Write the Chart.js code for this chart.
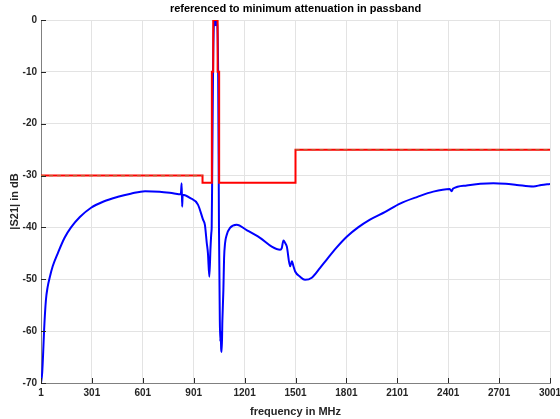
<!DOCTYPE html>
<html>
<head>
<meta charset="utf-8">
<script src="https://cdn.jsdelivr.net/npm/chart.js@4"></script>
<style>
  html, body { margin: 0; padding: 0; background: #fff; }
  #wrap { width: 560px; height: 419px; }
</style>
</head>
<body>
<div id="wrap"><canvas id="myChart" width="560" height="419"></canvas></div>
<script>
// measured response (blue)
const blueFreq = [1, 8, 14, 19, 30, 40, 52, 70, 101, 140, 178, 230, 296, 370, 455, 530, 614, 700, 779, 825, 830, 833, 836, 879, 926, 956, 967, 978, 985, 993, 1000, 1005, 1007, 1010, 1015, 1020, 1025, 1030, 1035, 1040, 1045, 1050, 1055, 1058, 1060, 1063, 1066, 1070, 1076, 1080, 1086, 1095, 1115, 1154, 1213, 1292, 1361, 1410, 1420, 1430, 1440, 1450, 1469, 1480, 1489, 1499, 1528, 1557, 1597, 1646, 1685, 1740, 1803, 1870, 1940, 2030, 2117, 2220, 2313, 2410, 2421, 2430, 2510, 2590, 2667, 2740, 2805, 2903, 2950, 3001];
const blueDb = [-70, -68, -64, -60, -54, -51.5, -49.7, -47.5, -44.9, -42, -40, -38, -36.2, -35, -34.1, -33.5, -33, -33.1, -33.4, -33.6, -31.5, -36, -33.7, -34.3, -35.6, -38.5, -39.5, -43, -45, -49.5, -44, -41, -40, -30, -10, -1, 0, -1, -0.3, -1, -10, -40, -58, -62, -60, -63.5, -64, -58, -52, -46, -43, -41.5, -40.1, -39.5, -40.5, -42, -43.7, -44.3, -44, -42.5, -43, -43.7, -47.5, -46.5, -47.5, -48.5, -49.5, -50.1, -49.7, -47.8, -46.2, -44, -41.8, -40, -38.5, -37, -35.4, -34.1, -33.1, -32.6, -33.0, -32.5, -31.9, -31.6, -31.5, -31.6, -31.8, -32.1, -31.8, -31.6];

// attenuation mask (red, stepped)
const maskFreq = [1, 953, 1008, 1016, 1042, 1051, 1501, 3001];
const maskDb = [-30, -31.4, -10, 0, -10, -31.4, -25, -25];

// second spec (dashed)
const specFreq = [1, 953, 1200, 1501, 3001];
const specDb = [-30, -30, null, -25, -25];

const xTicks = [1, 301, 601, 901, 1201, 1501, 1801, 2101, 2401, 2701, 3001];
const yTicks = [0, -10, -20, -30, -40, -50, -60, -70];

const titleText = 'referenced to minimum attenuation in passband';

const pts = (xs, ys) => xs.map((x, i) => ({ x: x, y: ys[i] }));

// MATLAB style ticks pointing into the plot + title centred over the axes
const matlabBits = {
  id: 'matlabBits',
  afterDraw(chart) {
    const { ctx, chartArea, scales } = chart;
    ctx.save();
    ctx.strokeStyle = '#262626';
    ctx.lineWidth = 1;
    ctx.beginPath();
    xTicks.forEach(v => {
      const px = Math.round(scales.x.getPixelForValue(v)) + 0.5;
      ctx.moveTo(px, chartArea.bottom);
      ctx.lineTo(px, chartArea.bottom - 5);
    });
    yTicks.forEach(v => {
      const py = Math.round(scales.y.getPixelForValue(v)) + 0.5;
      ctx.moveTo(chartArea.left, py);
      ctx.lineTo(chartArea.left + 5, py);
    });
    ctx.stroke();

    ctx.fillStyle = '#000';
    ctx.font = 'bold 11px "Liberation Sans", Arial';
    ctx.textAlign = 'center';
    ctx.textBaseline = 'middle';
    ctx.fillText(titleText, (chartArea.left + chartArea.right) / 2, 9);
    ctx.restore();
  }
};

const renderChart = () => {
  const ctx = document.getElementById('myChart');
  new Chart(ctx, {
    type: 'line',
    data: {
      datasets: [
        {
          label: 'spec',
          data: pts(specFreq, specDb),
          borderColor: '#b8602e',
          borderWidth: 1.2,
          borderDash: [4, 4],
          pointRadius: 0,
          spanGaps: false,
          order: 0
        },
        {
          label: 'mask',
          data: pts(maskFreq, maskDb),
          borderColor: '#ff0000',
          borderWidth: 2,
          stepped: 'before',
          pointRadius: 0,
          order: 1
        },
        {
          label: '|S21|',
          data: pts(blueFreq, blueDb),
          borderColor: '#0000ff',
          borderWidth: 2,
          pointRadius: 0,
          cubicInterpolationMode: 'monotone',
          order: 2
        }
      ]
    },
    options: {
      responsive: false,
      animation: false,
      layout: { padding: { left: 0, right: 10, top: 20, bottom: 0 }, autoPadding: false },
      plugins: {
        legend: { display: false },
        tooltip: { enabled: false },
        title: { display: false }
      },
      scales: {
        x: {
          type: 'linear',
          min: 1,
          max: 3001,
          afterBuildTicks: s => { s.ticks = xTicks.map(v => ({ value: v })); },
          afterFit: s => { s.height = 36; s.paddingLeft = 0; s.paddingRight = 0; },
          grid: { color: '#e3e3e3', drawTicks: false },
          border: { color: '#808080' },
          ticks: {
            color: '#262626',
            padding: 4,
            maxRotation: 0,
            autoSkip: false,
            callback: v => String(v),
            font: { family: 'Liberation Sans, Arial', size: 10, weight: 'bold' }
          },
          title: {
            display: true,
            text: 'frequency in MHz',
            color: '#262626',
            padding: { top: 0, bottom: 0 },
            font: { family: 'Liberation Sans, Arial', size: 11, weight: 'bold' }
          }
        },
        y: {
          min: -70,
          max: 0,
          afterBuildTicks: s => { s.ticks = yTicks.map(v => ({ value: v })); },
          afterFit: s => { s.width = 41; s.paddingTop = 0; s.paddingBottom = 0; },
          grid: { color: '#e3e3e3', drawTicks: false },
          border: { color: '#808080' },
          ticks: {
            color: '#262626',
            padding: 4,
            callback: v => String(v),
            font: { family: 'Liberation Sans, Arial', size: 10, weight: 'bold' }
          },
          title: {
            display: true,
            text: '|S21| in dB',
            color: '#262626',
            padding: { top: 8, bottom: 0 },
            font: { family: 'Liberation Sans, Arial', size: 11, weight: 'bold' }
          }
        }
      }
    },
    plugins: [matlabBits]
  });
};

window.addEventListener('load', () => {
  renderChart();
});
</script>
</body>
</html>
